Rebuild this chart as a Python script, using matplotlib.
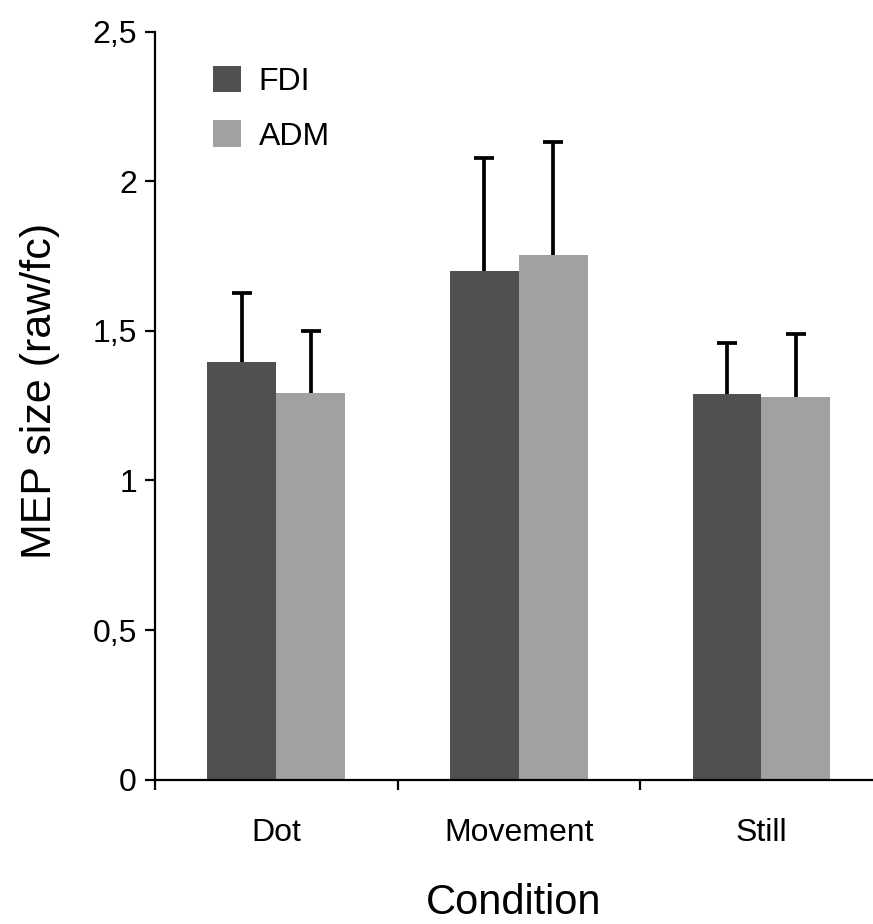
import numpy as np
import matplotlib.pyplot as plt
from matplotlib.patches import Patch

plt.rcParams['font.family'] = ['Liberation Sans', 'DejaVu Sans']

conditions = ['Dot', 'Movement', 'Still']
muscles = ['FDI', 'ADM']
fdi_mean = [1.397, 1.702, 1.289]
fdi_err = [0.229, 0.378, 0.170]
adm_mean = [1.292, 1.755, 1.278]
adm_err = [0.208, 0.377, 0.212]
colors = ['#505050', '#a1a1a1']
yticks = [0, 0.5, 1, 1.5, 2, 2.5]
ytick_labels = ['0', '0,5', '1', '1,5', '2', '2,5']

fig = plt.figure(figsize=(8.73, 9.24), dpi=100)
ax = fig.add_axes([155 / 873, (924 - 779.5) / 924, (873 - 155) / 873, (779.5 - 32) / 924])

x = np.arange(len(conditions))
w = 0.284
means = [fdi_mean, adm_mean]
errs = [fdi_err, adm_err]
for i in range(2):
    pos = x + (i - 0.5) * w
    top = np.array(means[i]) + np.array(errs[i])
    ax.bar(pos, means[i], width=w, color=colors[i], edgecolor='none', zorder=2)
    # upper error bar only
    ax.vlines(pos, means[i], top, colors='black', linewidth=2.7, zorder=3)
    ax.plot(pos, top, ls='none', marker='_', ms=15, mew=2.7, color='black', zorder=3)

ax.set_xlim(-0.5, 2.46)
ax.set_ylim(0, 2.5)
ax.set_yticks(yticks)
ax.set_yticklabels(ytick_labels)
ax.set_xticks(x)
ax.set_xticklabels(conditions)
ax.set_xticks([-0.5, 0.5, 1.5], minor=True)

for s in ['top', 'right']:
    ax.spines[s].set_visible(False)
for s in ['left', 'bottom']:
    ax.spines[s].set_linewidth(1.6)

ax.tick_params(axis='y', length=7, width=1.6, labelsize=23, pad=6)
ax.tick_params(axis='x', which='major', length=0, labelsize=23, pad=28)
ax.tick_params(axis='x', which='minor', length=7, width=1.6)

ax.set_ylabel('MEP size (raw/fc)', fontsize=31)
ax.yaxis.set_label_coords(-0.133, 0.52)
ax.set_xlabel('Condition', fontsize=30, labelpad=25)

handles = [Patch(facecolor=c, edgecolor='none') for c in colors]
ax.legend(handles, muscles, loc='upper left', bbox_to_anchor=(0.081, 0.954), frameon=False,
          fontsize=23, handlelength=0.88, handleheight=0.88, labelspacing=0.72,
          handletextpad=0.55, borderpad=0, borderaxespad=0)

fig.savefig('out.png', dpi=100)
